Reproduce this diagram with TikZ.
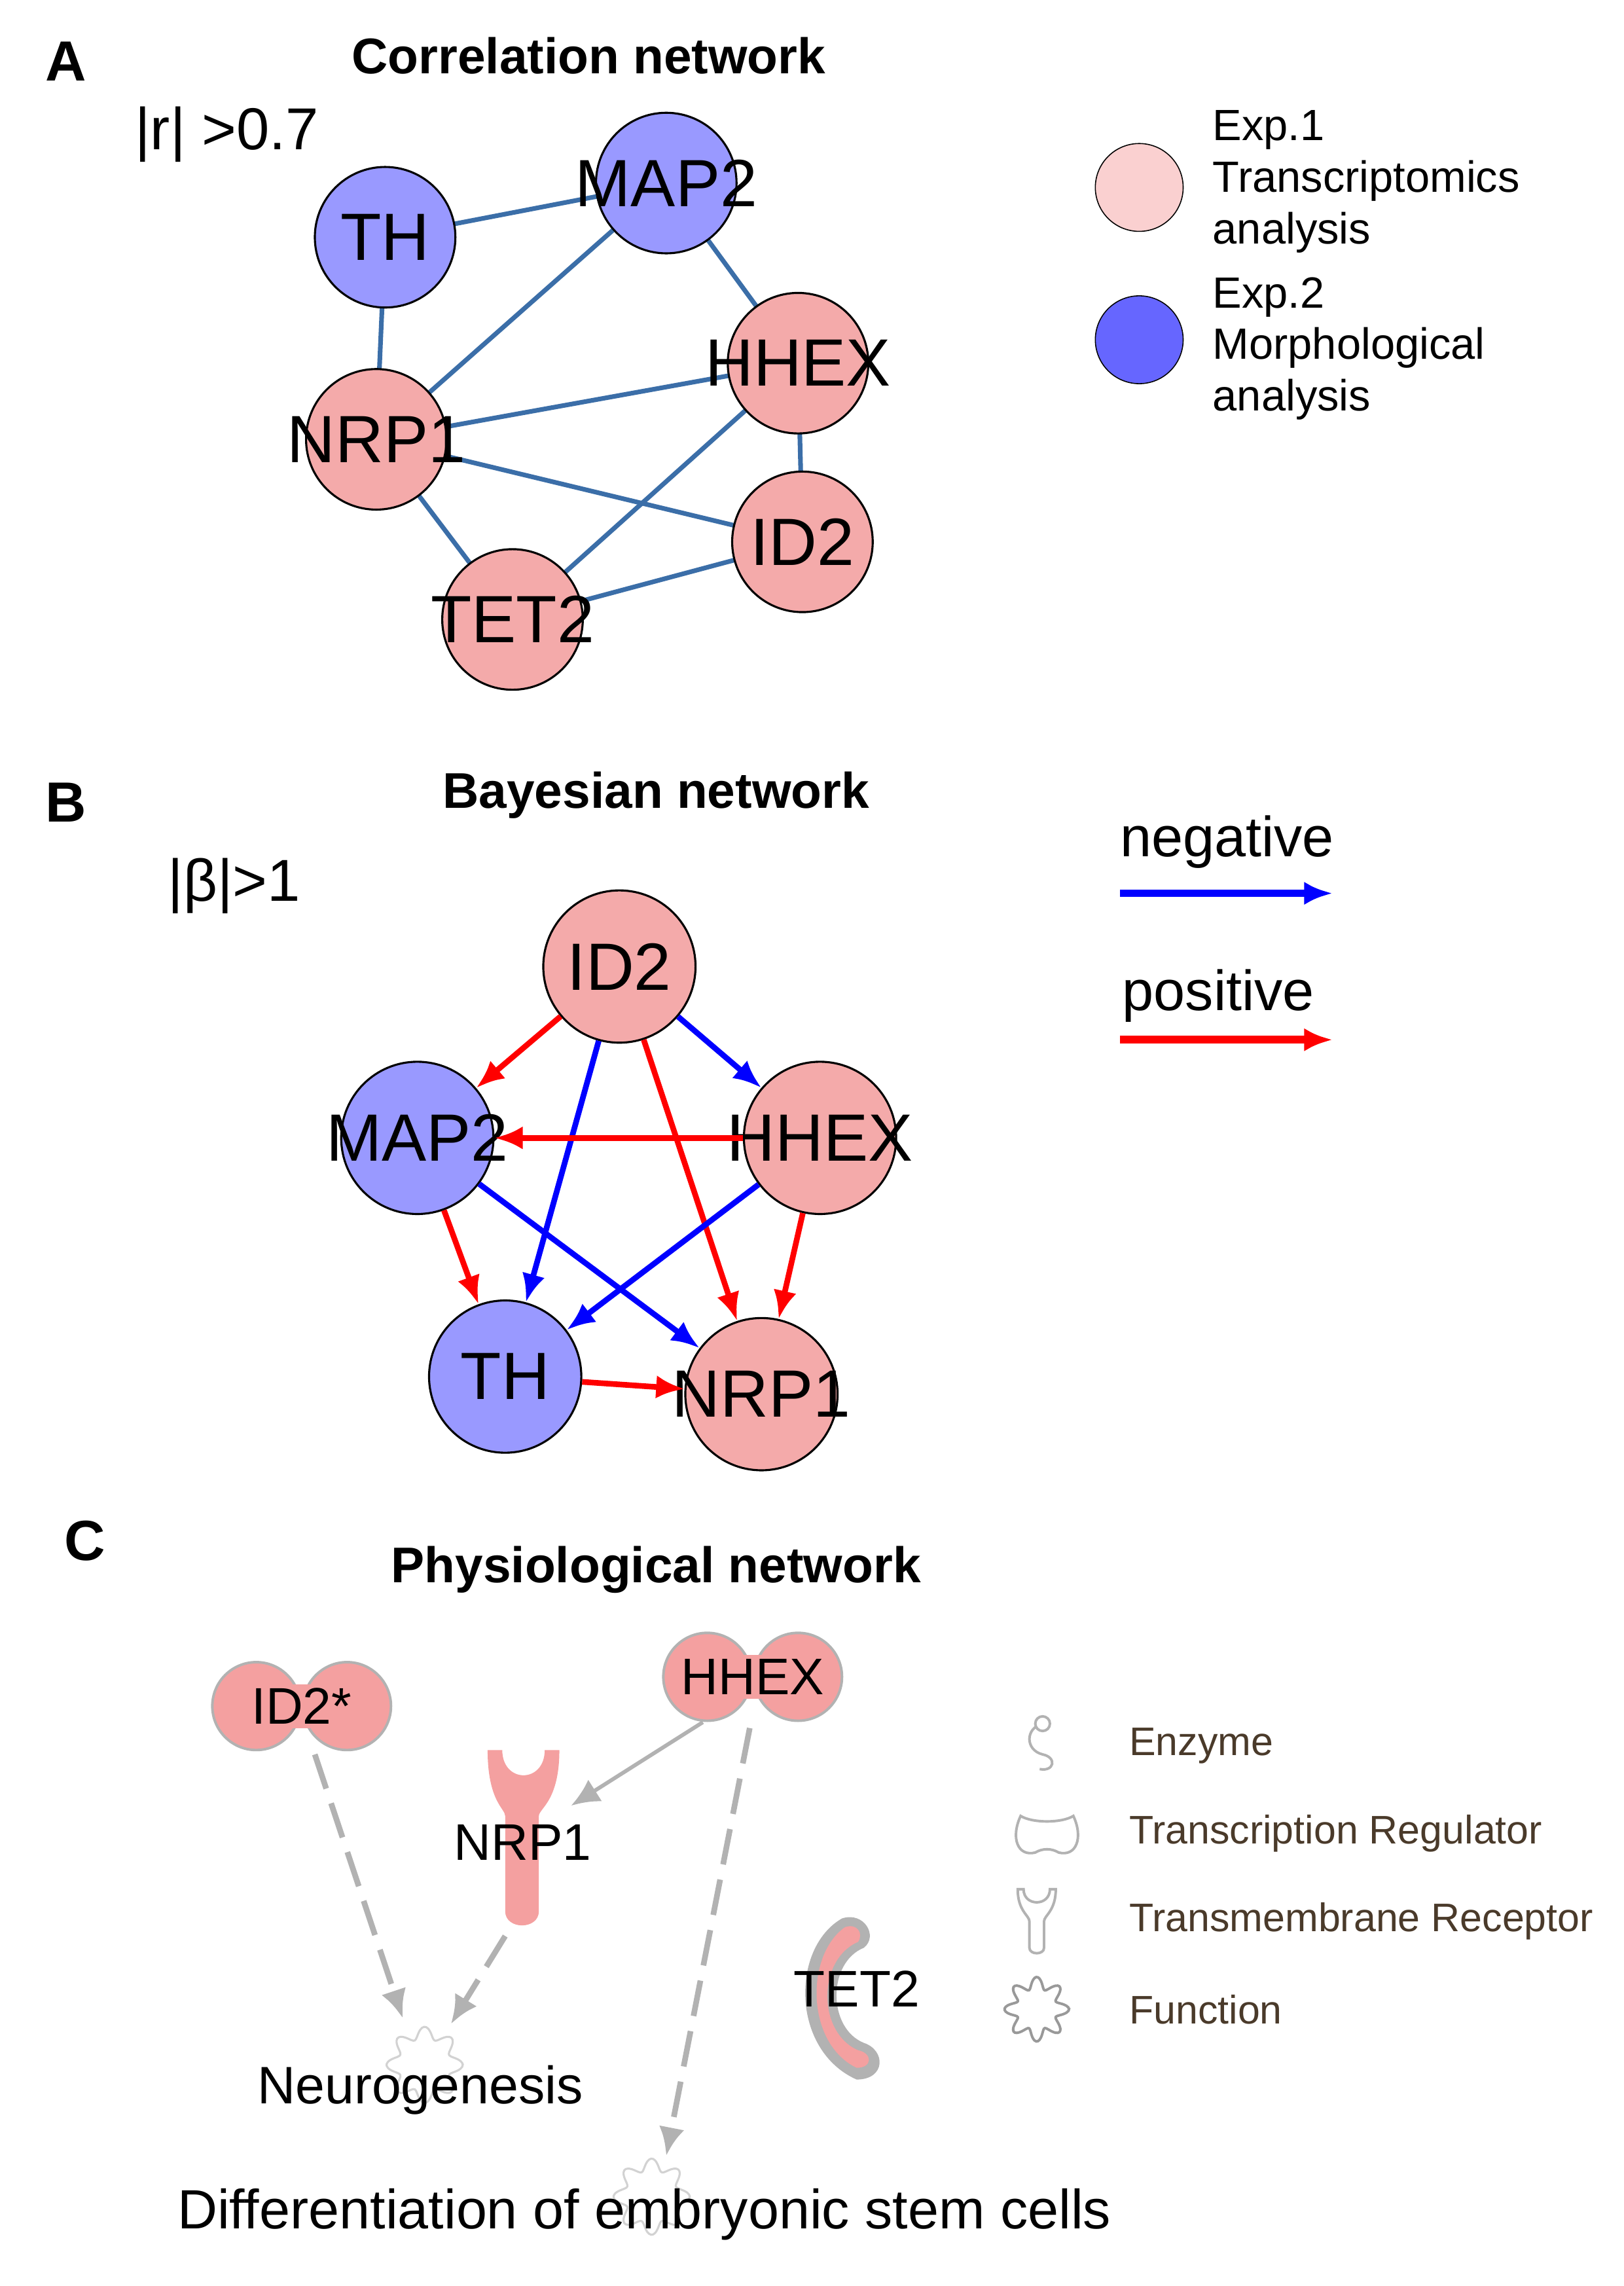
\documentclass[tikz,border=0pt]{standalone}
\usepackage{fontspec}
\setmainfont{Liberation Sans}
\usetikzlibrary{arrows.meta,backgrounds}
\definecolor{pk}{HTML}{F4AAAA}
\definecolor{bl}{HTML}{9999FF}
\definecolor{eg}{HTML}{3B6EA8}
\definecolor{lpk}{HTML}{FAD0D0}
\definecolor{lbl}{HTML}{6666FF}
\definecolor{ipa}{HTML}{F4A0A0}
\definecolor{txc}{HTML}{4A3A2A}
\begin{document}
\begin{tikzpicture}[x=0.02cm,y=-0.02cm,
 nd/.style={circle,draw=black,line width=0.8pt,minimum size=1.92cm,inner sep=0pt,label={[font=\fontsize{26}{26}\selectfont]center:#1}},
 bn/.style={nd=#1,minimum size=2.08cm},
 ce/.style={eg,line width=1.8pt},
 nega/.style={blue,line width=2.2pt,-{Latex[length=11pt,width=9pt]}},
 posa/.style={red,line width=2.2pt,-{Latex[length=11pt,width=9pt]}},
 ttl/.style={font=\bfseries\fontsize{19.5}{19.5}\selectfont},
 let/.style={font=\bfseries\fontsize{22}{22}\selectfont},
 leg/.style={font=\fontsize{17}{20}\selectfont,anchor=west},
 ipl/.style={font=\fontsize{15.5}{15.5}\selectfont,anchor=west,text=txc},
 gd/.style={gray!60,line width=2.2pt,dash pattern=on 14pt off 6pt,-{Latex[length=11pt,width=10pt]}},
 gs/.style={gray!60,line width=1.5pt,-{Latex[length=11pt,width=10pt]}},
 gear/.style={draw=gray!35,fill=white,line width=0.8pt},
 lico/.style={draw=gray!60,fill=white,line width=1pt}]
\useasboundingbox (0,0) rectangle (1109,1561);
% Panel A
\node[let] (la) at (45,42) {A};
\node[ttl] (ta) at (402,38) {Correlation network};
\node[font=\fontsize{23}{23}\selectfont] (ra) at (155,92) {|r| >0.7};
\node[nd=TH,fill=bl] (aTH) at (263,162) {};
\node[nd=MAP2,fill=bl] (aMAP) at (455,125) {};
\node[nd=HHEX,fill=pk] (aHH) at (545,248) {};
\node[nd=NRP1,fill=pk] (aNR) at (257,300) {};
\node[nd=ID2,fill=pk] (aID) at (548,370) {};
\node[nd=TET2,fill=pk] (aTE) at (350,423) {};
\begin{scope}[on background layer]
\draw[ce] (aTH.center)--(aMAP.center); \draw[ce] (aTH.center)--(aNR.center); \draw[ce] (aMAP.center)--(aNR.center);
\draw[ce] (aMAP.center)--(aHH.center); \draw[ce] (aNR.center)--(aHH.center); \draw[ce] (aNR.center)--(aID.center);
\draw[ce] (aNR.center)--(aTE.center); \draw[ce] (aHH.center)--(aID.center); \draw[ce] (aHH.center)--(aTE.center); \draw[ce] (aTE.center)--(aID.center);
\end{scope}
\node[circle,draw=black,fill=lpk,minimum size=1.2cm] (l1) at (778,128) {};
\node[circle,draw=black,fill=lbl,minimum size=1.2cm] (l2) at (778,232) {};
\node[leg,align=left] (t1) at (822,124) {Exp.1\\Transcriptomics\\analysis};
\node[leg,align=left] (t2) at (822,238) {Exp.2\\Morphological\\analysis};
% Panel B
\node[let] (lb) at (45,548) {B};
\node[ttl] (tb) at (448,543) {Bayesian network};
\node[font=\fontsize{23}{23}\selectfont] (rb) at (160,605) {|β|>1};
\node[bn=ID2,fill=pk] (bID) at (423,660) {};
\node[bn=MAP2,fill=bl] (bMAP) at (285,777) {};
\node[bn=HHEX,fill=pk] (bHH) at (560,777) {};
\node[bn=TH,fill=bl] (bTH) at (345,940) {};
\node[bn=NRP1,fill=pk] (bNR) at (520,952) {};
\draw[posa] (bID)--(bMAP); \draw[nega] (bID)--(bTH); \draw[posa] (bID)--(bNR);
\draw[nega] (bID)--(bHH); \draw[posa] (bHH)--(bMAP); \draw[posa] (bMAP)--(bTH);
\draw[nega] (bMAP)--(bNR); \draw[nega] (bHH)--(bTH); \draw[posa] (bHH)--(bNR);
\draw[posa] (bTH)--(bNR);
\node[font=\fontsize{22}{22}\selectfont] (ng) at (838,575) {negative};
\coordinate (n1) at (765,610); \coordinate (n2) at (910,610);
\draw[nega,line width=3pt] (n1)--(n2);
\node[font=\fontsize{22}{22}\selectfont] (ps) at (832,680) {positive};
\coordinate (p1) at (765,710); \coordinate (p2) at (910,710);
\draw[posa,line width=3pt] (p1)--(p2);
% Panel C
\node[let] (lc) at (58,1052) {C};
\node[ttl] (tc) at (448,1072) {Physiological network};
\draw[gear] plot[domain=0:360,samples=120,smooth] ({290+(22+4*cos(8*\x))*cos(\x)},{1410+(22+4*cos(8*\x))*sin(\x)}) -- cycle;
\draw[gear] plot[domain=0:360,samples=120,smooth] ({445+(22+4*cos(8*\x))*cos(\x)},{1500+(22+4*cos(8*\x))*sin(\x)}) -- cycle;
\node[font=\fontsize{20.5}{20.5}\selectfont] (cNeu) at (287,1427) {Neurogenesis};
\node[font=\fontsize{21.5}{21.5}\selectfont] (cDif) at (440,1512) {Differentiation of embryonic stem cells};
\fill[ipa,draw=gray!60,line width=1pt] (175,1165) circle (30) (237,1165) circle (30);
\fill[ipa] (170,1150) rectangle (242,1180);
\node[font=\fontsize{20}{20}\selectfont] (cID) at (206,1165) {ID2*};
\fill[ipa,draw=gray!60,line width=1pt] (483,1145) circle (30) (545,1145) circle (30);
\fill[ipa] (478,1130) rectangle (550,1160);
\node[font=\fontsize{20}{20}\selectfont] (cHH) at (514,1145) {HHEX};
\fill[ipa] (333,1195) .. controls (333,1230) and (345,1235) .. (345,1240) -- (345,1305) .. controls (345,1318) and (368,1318) .. (368,1305) -- (368,1240) .. controls (368,1235) and (382,1230) .. (382,1195) -- (372,1195) .. controls (372,1218) and (343,1218) .. (343,1195) -- cycle;
\node[font=\fontsize{20}{20}\selectfont] (cNR) at (357,1258) {NRP1};
\fill[gray!60] (575,1310) .. controls (540,1330) and (540,1400) .. (585,1420) .. controls (605,1420) and (605,1400) .. (590,1395) .. controls (565,1385) and (565,1340) .. (590,1330) .. controls (600,1322) and (590,1305) .. (575,1310) -- cycle;
\fill[ipa] (577,1316) .. controls (550,1335) and (550,1395) .. (585,1412) .. controls (596,1412) and (596,1402) .. (586,1400) .. controls (558,1388) and (558,1338) .. (586,1326) .. controls (590,1320) and (585,1313) .. (577,1316) -- cycle;
\node[font=\fontsize{20}{20}\selectfont] (cTE) at (585,1358) {TET2};
\coordinate (aI) at (215,1198); \coordinate (aIe) at (275,1378);
\draw[gd] (aI)--(aIe);
\coordinate (aN) at (345,1322); \coordinate (aNe) at (308,1382);
\draw[gd] (aN)--(aNe);
\coordinate (aH) at (480,1176); \coordinate (aHe) at (390,1233);
\draw[gs] (aH)--(aHe);
\coordinate (aH2) at (512,1180); \coordinate (aH2e) at (455,1472);
\draw[gd] (aH2)--(aH2e);
\draw[lico] (712,1177) .. controls (700,1180) and (700,1195) .. (712,1198) .. controls (722,1200) and (720,1210) .. (710,1208);
\draw[lico] (712,1177) circle (5);
\draw[lico] (697,1240) .. controls (690,1255) and (695,1268) .. (707,1265) .. controls (712,1262) and (718,1262) .. (723,1265) .. controls (735,1268) and (740,1255) .. (733,1240) .. controls (725,1245) and (705,1245) .. (697,1240) -- cycle;
\draw[lico] (695,1290) .. controls (695,1305) and (703,1308) .. (703,1312) -- (703,1330) .. controls (703,1335) and (713,1335) .. (713,1330) -- (713,1312) .. controls (713,1308) and (721,1305) .. (721,1290) -- (717,1290) .. controls (717,1302) and (699,1302) .. (699,1290) -- cycle;
\draw[lico,draw=gray!80] plot[domain=0:360,samples=120,smooth] ({708+(18+4*cos(8*\x))*cos(\x)},{1372+(18+4*cos(8*\x))*sin(\x)}) -- cycle;
\node[ipl] (e1) at (765,1192) {Enzyme};
\node[ipl] (e2) at (765,1252) {Transcription Regulator};
\node[ipl] (e3) at (765,1312) {Transmembrane Receptor};
\node[ipl] (e4) at (765,1372) {Function};
\end{tikzpicture}
\end{document}
